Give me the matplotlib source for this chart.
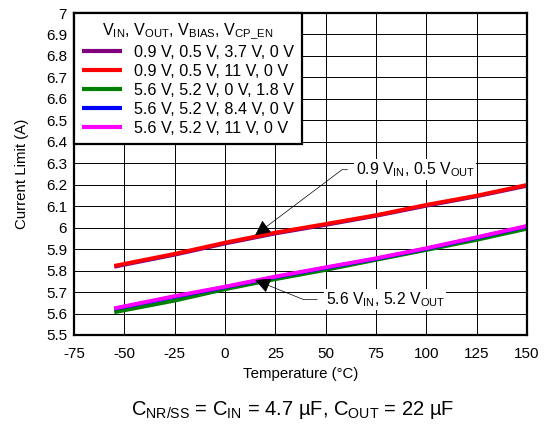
import matplotlib.pyplot as plt
import numpy as np
from matplotlib.ticker import FuncFormatter, MultipleLocator

plt.rcParams["font.family"] = ["Liberation Sans", "DejaVu Sans"]
plt.rcParams["mathtext.fontset"] = "custom"
plt.rcParams["mathtext.rm"] = "Liberation Sans"
plt.rcParams["axes.unicode_minus"] = False

# Temperature sweep points (°C)
temp = [-55, -25, 0, 25, 50, 75, 100, 125, 150]

# Current limit (A) per bias condition
i_09_05_37 = [5.818, 5.874, 5.926, 5.973, 6.013, 6.055, 6.102, 6.146, 6.195]
i_09_05_11 = [5.822, 5.878, 5.930, 5.977, 6.017, 6.058, 6.106, 6.149, 6.199]
i_56_52_00 = [5.606, 5.660, 5.713, 5.760, 5.803, 5.850, 5.896, 5.943, 5.995]
i_56_52_84 = [5.622, 5.678, 5.723, 5.770, 5.813, 5.855, 5.902, 5.953, 6.006]
i_56_52_11 = [5.624, 5.681, 5.725, 5.772, 5.815, 5.857, 5.904, 5.955, 6.008]

labels = [
    "0.9 V, 0.5 V, 3.7 V, 0 V",
    "0.9 V, 0.5 V, 11 V, 0 V",
    "5.6 V, 5.2 V, 0 V, 1.8 V",
    "5.6 V, 5.2 V, 8.4 V, 0 V",
    "5.6 V, 5.2 V, 11 V, 0 V",
]
colours = ["#800080", "#ff0000", "#008000", "#0000ff", "#ff00ff"]
series = [i_09_05_37, i_09_05_11, i_56_52_00, i_56_52_84, i_56_52_11]

fig = plt.figure(figsize=(5.46, 4.25), dpi=100)
ax = fig.add_axes([0.1355, 0.2118, 0.8295, 0.7576])

for y, c, lab in zip(series, colours, labels):
    ax.plot(temp, y, color=c, lw=2.8, label=lab, solid_capstyle="butt")

ax.set_xlim(-75, 150)
ax.set_ylim(5.5, 7.0)
ax.xaxis.set_major_locator(MultipleLocator(25))
ax.yaxis.set_major_locator(MultipleLocator(0.1))
ax.yaxis.set_major_formatter(FuncFormatter(lambda v, p: f"{round(v, 1):g}"))
ax.tick_params(length=0, labelsize=11, colors="black")
ax.tick_params(axis="x", pad=9)
ax.tick_params(axis="y", pad=5)
ax.grid(True, color="black", lw=0.7)
ax.set_axisbelow(True)
for s in ax.spines.values():
    s.set_linewidth(1.6)

ax.set_xlabel("Temperature (°C)", fontsize=10.8, labelpad=4)
ax.set_ylabel("Current Limit (A)", fontsize=10.8, labelpad=12)

leg = ax.legend(
    title=r"V$_{\mathrm{IN}}$, V$_{\mathrm{OUT}}$, V$_{\mathrm{BIAS}}$, V$_{\mathrm{CP\_EN}}$",
    loc="upper left", bbox_to_anchor=(0.0, 1.0), fontsize=11.6, title_fontsize=11.6,
    frameon=True, fancybox=False, edgecolor="black", framealpha=1,
    handlelength=2.5, handletextpad=0.7, borderpad=0.5, labelspacing=0.25,
    borderaxespad=0,
)
leg.get_frame().set_linewidth(1.6)
for h in leg.get_lines():
    h.set_linewidth(3)

box = dict(facecolor="white", edgecolor="none", pad=1)
ax.annotate(
    r"0.9 V$_{\mathrm{IN}}$, 0.5 V$_{\mathrm{OUT}}$", xy=(15, 5.965), xytext=(65, 6.27),
    fontsize=11.3, va="center", ha="left", bbox=box,
    arrowprops=dict(arrowstyle="-|>", color="black", lw=0.5, mutation_scale=24,
                    connectionstyle="angle,angleA=0,angleB=37,rad=0",
                    relpos=(0, 0.5), shrinkA=5, shrinkB=0),
)
ax.annotate(
    r"5.6 V$_{\mathrm{IN}}$, 5.2 V$_{\mathrm{OUT}}$", xy=(15, 5.756), xytext=(50, 5.665),
    fontsize=11.3, va="center", ha="left", bbox=box,
    arrowprops=dict(arrowstyle="-|>", color="black", lw=0.5, mutation_scale=24,
                    connectionstyle="angle,angleA=0,angleB=-22,rad=0",
                    relpos=(0, 0.5), shrinkA=5, shrinkB=0),
)

fig.text(0.535, 0.035,
         r"C$_{\mathrm{NR/SS}}$ = C$_{\mathrm{IN}}$ = 4.7 µF, C$_{\mathrm{OUT}}$ = 22 µF",
         ha="center", va="center", fontsize=14.5)

fig.savefig("out.png", dpi=100)
